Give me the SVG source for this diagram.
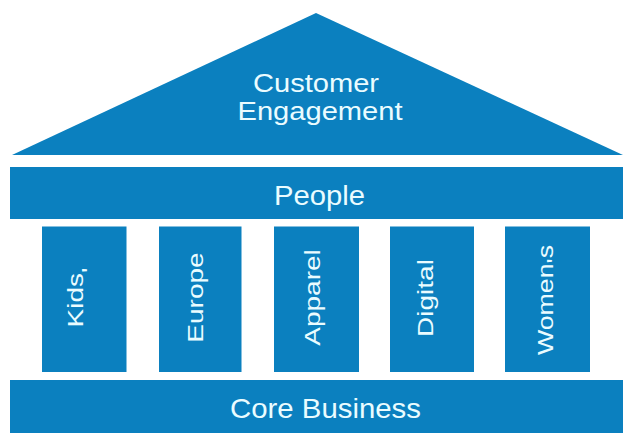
<svg xmlns="http://www.w3.org/2000/svg" width="623" height="433" viewBox="0 0 623 433">
  <style>
    .blk { fill: #0b80bf; }
    .t { font-family: "Liberation Sans", Arial, sans-serif; font-size: 28px; fill: #eafcff; text-anchor: middle; }
    .r { font-size: 25px; }
  </style>
  <rect x="0" y="0" width="623" height="433" fill="#ffffff"/>
  <g id="roof">
    <polygon class="blk" points="12,155 316,13 623,155"/>
    <text class="t r" x="316" y="92" textLength="126" lengthAdjust="spacingAndGlyphs">Customer</text>
    <text class="t r" x="320" y="120" textLength="165" lengthAdjust="spacingAndGlyphs">Engagement</text>
  </g>
  <g id="people">
    <rect class="blk" x="10" y="167" width="613" height="52"/>
    <text class="t" x="319.5" y="205" textLength="91" lengthAdjust="spacingAndGlyphs">People</text>
  </g>
  <g id="kids">
    <rect class="blk" x="42" y="226.5" width="84.5" height="145.5"/>
    <text class="t" transform="translate(82.7,297.5) rotate(-90) scale(1,0.82)">Kids<tspan dy="17">'</tspan></text>
  </g>
  <g id="europe">
    <rect class="blk" x="159" y="226.5" width="82.5" height="145.5"/>
    <text class="t" transform="translate(203.3,297.5) rotate(-90) scale(1,0.82)">Europe</text>
  </g>
  <g id="apparel">
    <rect class="blk" x="274" y="226.5" width="85" height="145.5"/>
    <text class="t" transform="translate(320,297.5) rotate(-90) scale(1,0.82)">Apparel</text>
  </g>
  <g id="digital">
    <rect class="blk" x="390" y="226.5" width="84" height="145.5"/>
    <text class="t" transform="translate(432.7,298) rotate(-90) scale(1,0.82)">Digital</text>
  </g>
  <g id="womens">
    <rect class="blk" x="505" y="226.5" width="85" height="145.5"/>
    <text class="t" transform="translate(553.3,300) rotate(-90) scale(1,0.82)" textLength="110" lengthAdjust="spacingAndGlyphs">Women<tspan dy="10">'</tspan><tspan dy="-10">s</tspan></text>
  </g>
  <g id="core">
    <rect class="blk" x="10" y="380" width="613" height="53"/>
    <text class="t" x="325.5" y="418" textLength="191" lengthAdjust="spacingAndGlyphs">Core Business</text>
  </g>
</svg>
